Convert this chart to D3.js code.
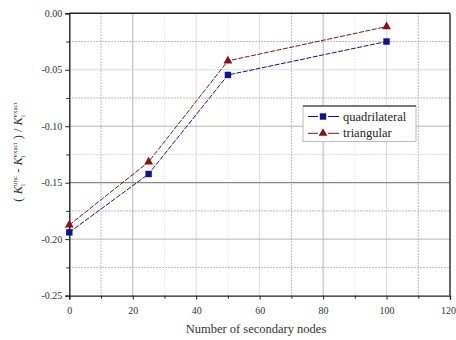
<!DOCTYPE html>
<html><head><meta charset="utf-8">
<script src="https://cdn.jsdelivr.net/npm/d3@7"></script>
<style>
body{margin:0;background:#fff;}
svg{display:block;}
svg text{font-family:"Liberation Serif","Times New Roman",serif !important;}
</style></head>
<body><svg id="c" width="456" height="340"></svg>
<script>
const nodes = [0, 25, 50, 100];
const quadrilateral = [-0.194, -0.1423, -0.0546, -0.0250];
const triangular = [-0.1875, -0.1316, -0.0421, -0.0118];
const xTicks = [0, 20, 40, 60, 80, 100, 120];
const yTicks = [0, -0.05, -0.10, -0.15, -0.20, -0.25];
const seriesNames = ["quadrilateral", "triangular"];
const seriesColors = ["#10109a", "#8e0f0f"];

const svg = d3.select("#c");
const L = 69.3, R = 450, T = 13.3, B = 295.6;
const x = d3.scaleLinear().domain([0, 120]).range([L, R]);
const y = d3.scaleLinear().domain([0, -0.25]).range([T, B]);

// grid
const g = svg.append("g");
d3.range(10, 120, 20).forEach(v => {
  g.append("line").attr("x1", x(v)).attr("x2", x(v)).attr("y1", T).attr("y2", B)
   .attr("stroke", (v===10||v===70||v===110) ? "#a8a8a8" : "#e6e6e6").attr("stroke-dasharray", "1.5,1.5");
});
d3.range(20, 120, 20).forEach(v => {
  g.append("line").attr("x1", x(v)).attr("x2", x(v)).attr("y1", T).attr("y2", B)
   .attr("stroke", (v===20||v===80) ? "#b4b4c0" : "#dcdcdc").attr("stroke-width", 1);
});
[-0.025, -0.075, -0.125, -0.175, -0.225].forEach(v => {
  g.append("line").attr("x1", L).attr("x2", R).attr("y1", y(v)).attr("y2", y(v))
   .attr("stroke", v===-0.125 ? "#d4d4d4" : "#a8a8a8").attr("stroke-dasharray", "1.5,1.5");
});
[-0.05, -0.10, -0.15, -0.20].forEach(v => {
  g.append("line").attr("x1", L).attr("x2", R).attr("y1", y(v)).attr("y2", y(v))
   .attr("stroke", v===-0.15 ? "#8a8a78" : (v===-0.05 ? "#dcdcdc" : "#b8b8b0"))
   .attr("stroke-width", v===-0.15 ? 1.3 : 1);
});

// axes
const ax = svg.append("g").attr("transform", `translate(0,${B})`)
  .call(d3.axisBottom(x).tickValues(xTicks).tickSize(4).tickFormat(d3.format("d")));
svg.append("g").attr("transform", `translate(0,${B})`)
  .call(d3.axisBottom(x).tickValues(d3.range(10,120,20)).tickSize(3).tickFormat(""))
  .select(".domain").remove();
const ay = svg.append("g").attr("transform", `translate(${L},0)`)
  .call(d3.axisLeft(y).tickValues(yTicks).tickSize(4).tickFormat(d => d === 0 ? "0.00" : "-" + d3.format(".2f")(-d)));
svg.append("g").attr("transform", `translate(${L},0)`)
  .call(d3.axisLeft(y).tickValues([-0.025,-0.075,-0.125,-0.175,-0.225]).tickSize(3).tickFormat(""))
  .select(".domain").remove();
svg.selectAll(".tick text").attr("font-size", 10).attr("fill", "#333");
ax.selectAll(".tick text").attr("dy", "1.15em");
ax.selectAll(".tick text").filter(d => d === 120).attr("text-anchor", "end").attr("x", 5.5);
ay.selectAll(".tick text").attr("x", -7);
svg.selectAll(".domain").attr("stroke", "#222").attr("stroke-width", 1.4);
svg.selectAll(".tick line").attr("stroke", "#222");
// top/right frame
svg.append("line").attr("x1", L).attr("x2", R).attr("y1", T).attr("y2", T).attr("stroke", "#222").attr("stroke-width", 1.4);
svg.append("line").attr("x1", R).attr("x2", R).attr("y1", T).attr("y2", B).attr("stroke", "#222").attr("stroke-width", 1.4);

// series
const data = [quadrilateral, triangular];
const line = d3.line().x((d,i) => x(nodes[i])).y(d => y(d));
data.forEach((s, k) => {
  svg.append("path").datum(s).attr("d", line).attr("fill", "none")
    .attr("stroke", seriesColors[k]).attr("stroke-width", 1).attr("stroke-dasharray", "5,1.5");
});
function marker(sel, k, cx, cy) {
  if (k === 0) sel.append("rect").attr("x", cx-3.2).attr("y", cy-3.2).attr("width", 6.4).attr("height", 6.4).attr("fill", seriesColors[0]);
  else sel.append("path").attr("d", d3.symbol(d3.symbolTriangle, 34)()).attr("transform", `translate(${cx},${cy})`).attr("fill", seriesColors[1]);
}
data.forEach((s, k) => s.forEach((v, i) => marker(svg, k, x(nodes[i]), y(v))));

// legend
const lg = svg.append("g");
lg.append("rect").attr("x", 303).attr("y", 106).attr("width", 113).attr("height", 35.5)
  .attr("fill", "#fff").attr("stroke", "#bdbdbd").attr("stroke-width", 1);
lg.append("line").attr("x1", 303).attr("x2", 416).attr("y1", 106).attr("y2", 106).attr("stroke", "#555").attr("stroke-width", 1.5);
seriesNames.forEach((n, k) => {
  const yy = 116.5 + k*16.8;
  lg.append("line").attr("x1", 308).attr("x2", 318).attr("y1", yy).attr("y2", yy)
    .attr("stroke", seriesColors[k]).attr("stroke-width", 1);
  lg.append("line").attr("x1", 328).attr("x2", 339).attr("y1", yy).attr("y2", yy)
    .attr("stroke", seriesColors[k]).attr("stroke-width", 1);
  marker(lg, k, 323, yy);
  lg.append("text").attr("x", 343).attr("y", yy + 4).attr("font-size", 12.5).attr("fill", "#222").text(n);
});

// axis titles
svg.append("text").attr("x", 256).attr("y", 333).attr("text-anchor", "middle")
  .attr("font-size", 12.5).attr("fill", "#333").text("Number of secondary nodes");
const yt = svg.append("text").attr("transform", "translate(22,152) rotate(-90)").attr("text-anchor", "middle")
  .attr("font-size", 12.5).attr("fill", "#333");
function kterm(t, sup) {
  t.append("tspan").attr("font-style", "italic").text("K");
  t.append("tspan").attr("font-size", 7).attr("dy", 3).text("i");
  t.append("tspan").attr("font-size", 7).attr("dx", -2).attr("dy", -8).text(sup);
  t.append("tspan").attr("dy", 5).text(" ");
}
yt.append("tspan").text("( ");
kterm(yt, "unc");
yt.append("tspan").text("- ");
kterm(yt, "exact");
yt.append("tspan").text(") / ");
kterm(yt, "exact");
</script></body></html>
